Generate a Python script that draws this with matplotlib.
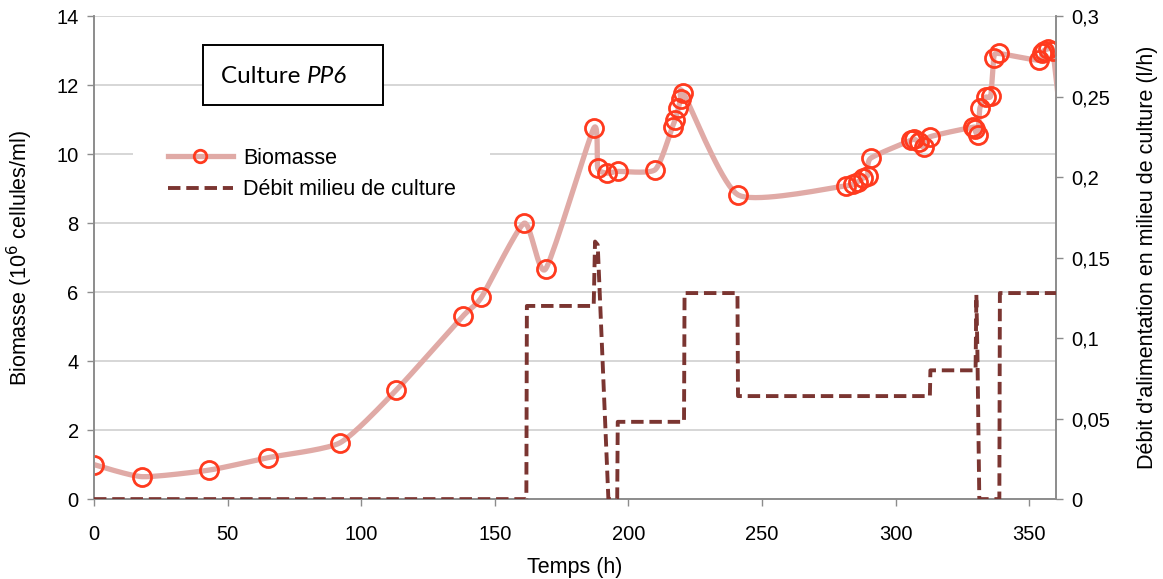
import matplotlib
matplotlib.use("Agg")
import matplotlib.pyplot as plt
import matplotlib.ticker as mticker
from matplotlib.lines import Line2D
from matplotlib.patches import Rectangle
import numpy as np

plt.rcParams['font.family'] = ['Liberation Sans', 'DejaVu Sans']

# biomass samples (h, 10^6 cells/ml)
bio_t = [0, 18, 43, 65, 92, 113, 138, 145, 161, 169, 187, 188.5, 192, 196, 210,
         216.5, 217.5, 218.7, 219.5, 220.6, 241, 281.3, 283.9, 285.8, 287.6, 289.5,
         290.6, 305.6, 306.7, 308.6, 310.5, 312.7, 328.8, 329.6, 330.7, 331.5, 333.7,
         335.6, 336.7, 338.6, 353.6, 354.7, 355.4, 356.9, 358.8, 362]
bio_v = [1.0, 0.65, 0.84, 1.2, 1.63, 3.15, 5.3, 5.85, 8.0, 6.67, 10.75, 9.6, 9.45, 9.5, 9.55,
         10.8, 11.0, 11.33, 11.6, 11.77, 8.82, 9.08, 9.13, 9.2, 9.3, 9.38,
         9.88, 10.4, 10.45, 10.35, 10.2, 10.5, 10.78, 10.72, 10.55, 11.33, 11.65,
         11.7, 12.8, 12.92, 12.72, 12.93, 13.0, 13.05, 13.0, 10.8]

# feed rate (l/h), step profile
deb_t = [0, 161.8, 162, 187, 187.5, 188.5, 192.5, 195.8, 196, 220.8, 221, 240.8, 241,
         312.8, 313, 329.9, 330.2, 330.6, 331.3, 338.8, 339, 360]
deb_v = [0, 0, 0.12, 0.12, 0.16, 0.158, 0, 0, 0.048, 0.048, 0.128, 0.128, 0.064,
         0.064, 0.08, 0.08, 0.127, 0.09, 0, 0, 0.128, 0.128]

x_ticks = [0, 50, 100, 150, 200, 250, 300, 350]
y_left_ticks = [0, 2, 4, 6, 8, 10, 12, 14]
y_right_ticks = [0, 0.05, 0.1, 0.15, 0.2, 0.25, 0.3]
y_right_labels = ['0', '0,05', '0,1', '0,15', '0,2', '0,25', '0,3']


def smooth(xs, ys, sx, sy, k=0.1, n=20):
  # Excel-like smoothed line (cardinal spline as cubic Bezier), in screen-ish units
  p = np.column_stack([np.asarray(xs, float) * sx, np.asarray(ys, float) * sy])
  out = [p[0]]
  for i in range(len(p) - 1):
    p0 = p[i - 1] if i > 0 else p[i]
    p1, p2 = p[i], p[i + 1]
    p3 = p[i + 2] if i + 2 < len(p) else p[i + 1]
    c1 = p1 + (p2 - p0) * k
    c2 = p2 - (p3 - p1) * k
    t = np.linspace(0, 1, n)[1:, None]
    seg = ((1 - t) ** 3) * p1 + 3 * ((1 - t) ** 2) * t * c1 + 3 * (1 - t) * t ** 2 * c2 + t ** 3 * p2
    out.extend(seg)
  out = np.array(out)
  return out[:, 0] / sx, out[:, 1] / sy


fig = plt.figure(figsize=(11.63, 5.79), dpi=100)
ax = fig.add_axes([0.0808, 0.138, 0.8272, 0.834])
ax2 = ax.twinx()

grey = '#8c8c8c'
bio_col = '#e0aaa6'
mk_col = '#ff3a1e'
deb_col = '#7b3531'
deb_dash = (0, (3.2, 1.5))

ax.set_xlim(0, 360)
ax.set_ylim(0, 14)
ax2.set_ylim(0, 0.3)

ax.yaxis.grid(True, color='#d0d0d0', linewidth=1.2, zorder=0.5)
ax.set_axisbelow(True)

# white backdrop behind the legend (hides the gridline there)
ax.add_patch(Rectangle((0.0405, 0.59), 0.371, 0.17, transform=ax.transAxes,
                       facecolor='white', edgecolor='none', zorder=1))

sxs, sys_ = smooth(bio_t, bio_v, 962 / 360, 483 / 14)
ax.plot(sxs, sys_, color=bio_col, linewidth=3.8, solid_capstyle='round', zorder=3)
bt = np.array(bio_t)
bv = np.array(bio_v)
inside = bt <= 360
ax.plot(bt[inside], bv[inside], linestyle='none', marker='o', markersize=13,
        markerfacecolor='none', markeredgecolor=mk_col, markeredgewidth=2, zorder=4)

ax2.plot(deb_t, deb_v, color=deb_col, linewidth=2.8, linestyle=deb_dash, zorder=3)

ax.set_xticks(x_ticks)
ax.set_yticks(y_left_ticks)
ax2.set_yticks(y_right_ticks)
ax2.yaxis.set_major_formatter(mticker.FixedFormatter(y_right_labels))

for a in (ax, ax2):
  a.spines['top'].set_visible(False)
  for s in ('left', 'right', 'bottom'):
    a.spines[s].set_color(grey)
    a.spines[s].set_linewidth(1.2)
  a.tick_params(labelsize=14.5, color=grey, length=5, width=1, pad=6)
ax.tick_params(axis='x', pad=14)

ax.set_xlabel('Temps (h)', fontsize=15.5, labelpad=9)
ax.set_ylabel(r'Biomasse (10$^6$ cellules/ml)', fontsize=15.5, labelpad=15)
ax2.set_ylabel("Débit d'alimentation en milieu de culture (l/h)", fontsize=15.5, labelpad=19)

# legend
h1 = Line2D([], [], color=bio_col, linewidth=3.8, marker='o', markersize=9,
            markerfacecolor='none', markeredgecolor=mk_col, markeredgewidth=2)
h2 = Line2D([], [], color=deb_col, linewidth=2.8, linestyle=deb_dash)
ax2.legend([h1, h2], ['Biomasse', 'Débit milieu de culture'], loc='upper left',
           bbox_to_anchor=(0.1445, 0.745), bbox_transform=fig.transFigure,
           fontsize=15.5, handlelength=3.0, handletextpad=0.5, frameon=False,
           borderpad=0, labelspacing=0.5, borderaxespad=0)

# title box
fig.text(0.264, 0.868, 'Culture ', fontsize=17.5, family=['Lato', 'DejaVu Sans'],
         ha='right', va='center')
fig.text(0.264, 0.868, 'PP6', fontsize=17.5, family=['Lato', 'DejaVu Sans'],
         style='italic', ha='left', va='center')
fig.patches.append(Rectangle((203 / 1163, 1 - 105 / 579), 180 / 1163, 60 / 579,
                             transform=fig.transFigure, facecolor='white',
                             edgecolor='black', linewidth=1.4, zorder=1))

fig.savefig('out.png', dpi=100)
